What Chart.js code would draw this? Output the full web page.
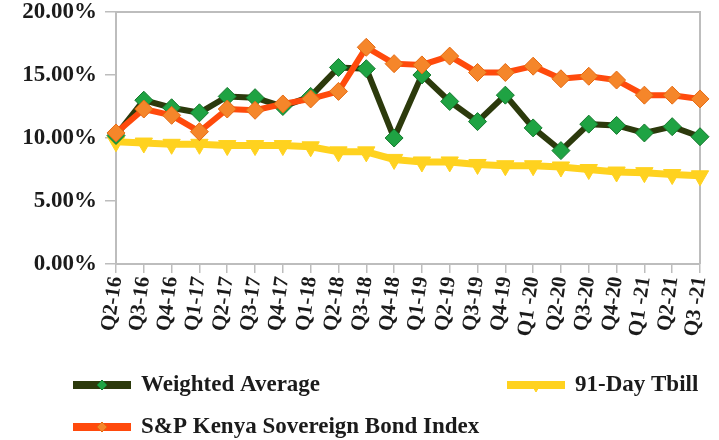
<!DOCTYPE html>
<html>
<head>
<meta charset="utf-8">
<script src="https://cdn.jsdelivr.net/npm/chart.js@4/dist/chart.umd.min.js"></script>
<style>
  html, body { margin: 0; padding: 0; background: #ffffff; }
  #c { display: block; }
</style>
</head>
<body>
<canvas id="c" width="719" height="440"></canvas>
<script>
// Quarterly yields, in percent
const quarters = [
  'Q2-16', 'Q3-16', 'Q4-16', 'Q1-17', 'Q2-17', 'Q3-17', 'Q4-17', 'Q1-18',
  'Q2-18', 'Q3-18', 'Q4-18', 'Q1-19', 'Q2-19', 'Q3-19', 'Q4-19', 'Q1 -20',
  'Q2-20', 'Q3-20', 'Q4-20', 'Q1 -21', 'Q2-21', 'Q3 -21'
];
const weightedAverage = [
  10.2, 13.0, 12.4, 12.0, 13.3, 13.2, 12.5, 13.3, 15.6, 15.5, 10.0,
  15.0, 12.9, 11.3, 13.4, 10.8, 9.0, 11.1, 11.0, 10.4, 10.9, 10.1
];
const tbill91 = [
  9.7, 9.6, 9.5, 9.5, 9.4, 9.4, 9.4, 9.3, 8.9, 8.9, 8.3,
  8.1, 8.1, 7.9, 7.8, 7.8, 7.7, 7.5, 7.3, 7.25, 7.1, 7.0
];
const spKenyaBond = [
  10.4, 12.3, 11.8, 10.5, 12.3, 12.2, 12.7, 13.1, 13.7, 17.2, 15.9,
  15.8, 16.5, 15.2, 15.2, 15.7, 14.7, 14.9, 14.6, 13.4, 13.4, 13.1
];
const yTickValues = [0, 5, 10, 15, 20];

const SERIF = '"Liberation Serif", "DejaVu Serif", serif';
const INK = '#1b1b1b';
const AXIS_GREY = '#bdbdbd';

const sovereignSeries = {
  label: 'S&P Kenya Sovereign Bond Index',
  data: spKenyaBond,
  borderColor: '#ff4a0c',
  borderWidth: 6,
  pointStyle: 'rectRot',
  pointRadius: 9,
  pointBackgroundColor: '#f5862a',
  pointBorderColor: '#e56a12',
  pointBorderWidth: 1,
  tension: 0
};
const weightedSeries = {
  label: 'Weighted Average',
  data: weightedAverage,
  borderColor: '#2c3a0c',
  borderWidth: 6,
  pointStyle: 'rectRot',
  pointRadius: 9,
  pointBackgroundColor: '#1fa343',
  pointBorderColor: '#14782c',
  pointBorderWidth: 1,
  tension: 0
};
const tbillSeries = {
  label: '91-Day Tbill',
  data: tbill91,
  borderColor: '#ffd21f',
  borderWidth: 7,
  pointStyle: 'triangle',
  pointRotation: 180,
  pointRadius: 10,
  pointBackgroundColor: '#ffd21f',
  pointBorderColor: '#ffd21f',
  pointBorderWidth: 1,
  tension: 0
};

// Legend slots: dataset index, line start x, row centre y
const legendSlots = [
  { ds: 1, x: 73, y: 385 },
  { ds: 2, x: 507, y: 385 },
  { ds: 0, x: 73, y: 427 }
];

const framePlugin = {
  id: 'plotFrame',
  beforeDatasetsDraw(chart) {
    const { ctx, chartArea: a } = chart;
    ctx.save();
    ctx.strokeStyle = AXIS_GREY;
    ctx.lineWidth = 2;
    ctx.beginPath();
    ctx.moveTo(a.left, a.top);
    ctx.lineTo(a.right, a.top);
    ctx.lineTo(a.right, a.bottom);
    ctx.stroke();
    ctx.restore();
  }
};

const legendPlugin = {
  id: 'twoColumnLegend',
  afterDraw(chart) {
    const ctx = chart.ctx;
    ctx.save();
    legendSlots.forEach(slot => {
      const ds = chart.data.datasets[slot.ds];
      const len = 58;
      ctx.strokeStyle = ds.borderColor;
      ctx.lineWidth = 8;
      ctx.lineCap = 'butt';
      ctx.beginPath();
      ctx.moveTo(slot.x, slot.y);
      ctx.lineTo(slot.x + len, slot.y);
      ctx.stroke();
      ctx.fillStyle = ds.pointBackgroundColor;
      ctx.strokeStyle = ds.pointBorderColor;
      ctx.lineWidth = 1;
      Chart.helpers.drawPoint(ctx, {
        pointStyle: ds.pointStyle,
        rotation: ds.pointRotation || 0,
        radius: 5,
        borderWidth: 1
      }, slot.x + len / 2, slot.y + (ds.pointStyle === 'triangle' ? 2 : 0));
      ctx.fillStyle = INK;
      ctx.font = 'bold 23px ' + SERIF;
      ctx.textBaseline = 'middle';
      ctx.textAlign = 'left';
      ctx.fillText(ds.label, slot.x + len + 10, slot.y);
    });
    ctx.restore();
  }
};

new Chart(document.getElementById('c'), {
  type: 'line',
  data: {
    labels: quarters,
    datasets: [sovereignSeries, weightedSeries, tbillSeries]
  },
  options: {
    responsive: false,
    devicePixelRatio: 1,
    animation: false,
    layout: { padding: { left: 0, top: 12, right: 19, bottom: 0 } },
    plugins: {
      legend: { display: false },
      tooltip: { enabled: false }
    },
    scales: {
      x: {
        offset: false,
        border: { color: AXIS_GREY, width: 2 },
        grid: { drawOnChartArea: false, color: AXIS_GREY, lineWidth: 1.5, tickLength: 9 },
        ticks: {
          autoSkip: false,
          minRotation: 82,
          maxRotation: 82,
          padding: 2,
          color: INK,
          font: { family: SERIF, size: 21, weight: 'bold' }
        },
        afterFit(scale) {
          scale.height = 176;
          scale.paddingLeft = 0;
          scale.paddingRight = 0;
        }
      },
      y: {
        min: 0,
        max: 20,
        afterBuildTicks(scale) { scale.ticks = yTickValues.map(v => ({ value: v })); },
        border: { color: AXIS_GREY, width: 2 },
        grid: { drawOnChartArea: false, color: AXIS_GREY, lineWidth: 1.5, tickLength: 11 },
        ticks: {
          padding: 8,
          color: INK,
          font: { family: SERIF, size: 23, weight: 'bold' },
          callback: v => v.toFixed(2) + '%'
        },
        afterFit(scale) {
          scale.width = 116;
          scale.paddingTop = 0;
          scale.paddingBottom = 0;
        }
      }
    }
  },
  plugins: [framePlugin, legendPlugin]
});
</script>
</body>
</html>
